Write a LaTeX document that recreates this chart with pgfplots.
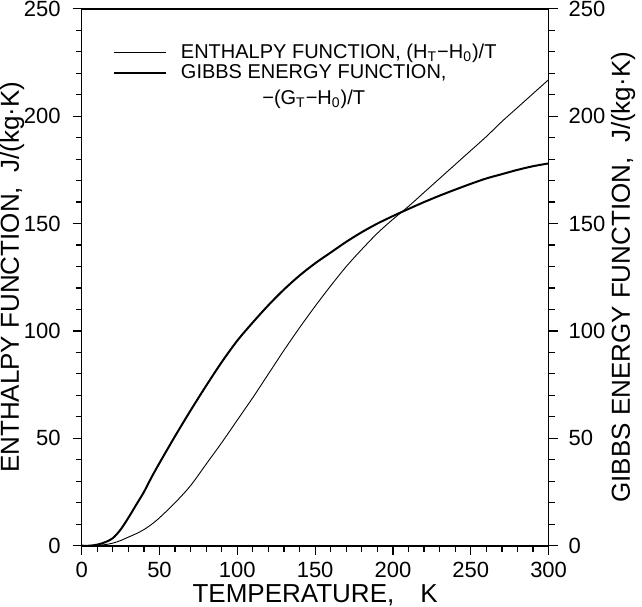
\documentclass[border=0pt]{standalone}
\usepackage{pgfplots}
\pgfplotsset{compat=1.18}
\usepackage{fontspec}
\setmainfont{Liberation Sans}

% enthalpy function (thin) and gibbs energy function (thick)
\pgfplotstableread{
T    H
0    0
5    0
10   0.2
15   0.5
20   1.2
25   2.4
30   4
35   5.6
40   7.5
45   10
50   13
60   20
70   28
80   38
90   48
100  58.5
110  69
120  80
130  91
140  101.5
150  111.5
160  121
170  130
180  138
190  145.5
200  152
210  158
220  164.5
230  171
240  177.5
250  184
260  190.5
270  197.5
280  204
290  210.5
300  217
}\enthalpy

\pgfplotstableread{
T    G
0    0
5    0
10   0.5
15   1.6
20   3.5
25   7.5
30   13
35   19
40   25
45   32
50   38.5
60   51
70   63
80   74.5
90   85.5
100  95.5
110  104
120  112
130  119.3
140  125.8
150  131.5
160  136.5
170  141.5
180  146
190  150
200  153.5
210  156.8
220  160
230  163
240  165.8
250  168.5
260  171
270  173
280  175
290  176.7
300  178
}\gibbs

\begin{document}
\begin{tikzpicture}
\pgfplotsset{
  common/.style={
    scale only axis, width=233.5pt, height=268.5pt,
    xmin=0, xmax=300, ymin=0, ymax=250,
    tick align=outside,
    major tick length=4.5pt, minor tick length=3pt,
    ytick={0,50,...,250}, minor ytick={0,10,...,250},
    every tick/.style={black, line width=0.6pt},
    axis line style={line width=0.8pt},
    tick label style={font=\fontsize{11}{12}\selectfont},
    yticklabel style={inner ysep=0.5pt},
    label style={font=\fontsize{13}{15}\selectfont},
    /pgf/number format/assume math mode=true,
  }
}
\begin{axis}[common,
  xtick={0,50,...,300}, minor xtick={0,10,...,300},
  xtick pos=bottom, ytick pos=left,
  yticklabel shift=2.5pt,
  xlabel={TEMPERATURE,\quad K},
  ylabel={ENTHALPY FUNCTION,\ \ J/(kg·K)},
  xlabel style={inner sep=0pt, yshift=-0.3pt},
  ylabel style={inner sep=0pt},
  ylabel shift=-3.7pt,
  legend style={at={(axis cs:16,237.5)}, anchor=north west, draw=none, fill=none,
    font=\fontsize{10}{11}\selectfont, row sep=-3pt},
  legend cell align=left,
  legend image code/.code={\draw[#1] (0pt,0pt) -- (26pt,0pt); \path (31pt,0pt);},
]
\addplot[black, line width=0.45pt, smooth] table[x=T, y=H] {\enthalpy};
\addlegendentry{ENTHALPY FUNCTION, (H\textsubscript{T}−H\textsubscript{0})/T}
\addplot[black, line width=1pt, smooth] table[x=T, y=G] {\gibbs};
\addlegendentry{\begin{tabular}[t]{@{}c@{}}GIBBS ENERGY FUNCTION,\\[2pt]−(G\textsubscript{T}−H\textsubscript{0})/T\end{tabular}}
\end{axis}
\begin{axis}[common,
  axis x line=none, axis y line*=right,
  yticklabel shift=2pt,
  ylabel={GIBBS ENERGY FUNCTION,\ \ J/(kg·K)},
  ylabel shift=-4pt,
]
\end{axis}
\end{tikzpicture}
\end{document}
